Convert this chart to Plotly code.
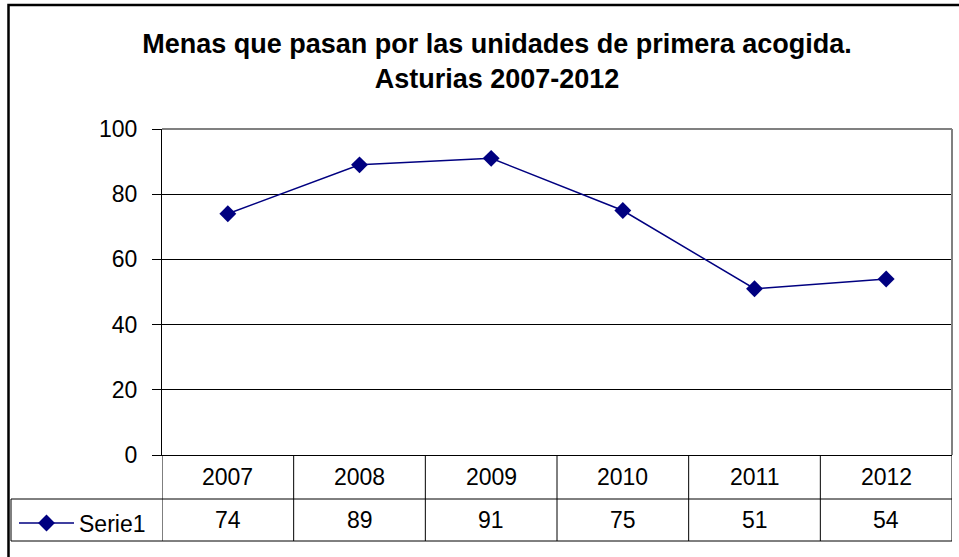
import plotly.graph_objects as go

years = ["2007", "2008", "2009", "2010", "2011", "2012"]
serie1 = [74, 89, 91, 75, 51, 54]
y_ticks = [0, 20, 40, 60, 80, 100]

W, H = 959, 557
L, R, T, B = 162, 7, 129, 102
PW, PH = W - L - R, H - T - B
NAVY = "#000080"
FONT = "Liberation Sans, Arial, sans-serif"


def xp(px):
    return (px - L) / PW


def yp(py):
    return (H - B - py) / PH


fig = go.Figure()
fig.add_trace(go.Scatter(
    x=years, y=serie1, name="Serie1", mode="lines+markers",
    line=dict(color=NAVY, width=1.5),
    marker=dict(symbol="diamond", size=13, color=NAVY),
))

shapes = []
# outer chart border
shapes.append(dict(type="rect", xref="paper", yref="paper",
                   x0=xp(8.5), x1=xp(1000), y0=yp(5), y1=yp(700),
                   line=dict(color="black", width=2.5)))
# plot area top/right border (gray)
shapes.append(dict(type="line", xref="paper", yref="paper",
                   x0=0, x1=1, y0=1, y1=1, line=dict(color="#808080", width=2)))
shapes.append(dict(type="line", xref="paper", yref="paper",
                   x0=1, x1=1, y0=0, y1=1, line=dict(color="#808080", width=2)))
# data table rows
for py in (499, 541):
    shapes.append(dict(type="line", xref="paper", yref="paper",
                       x0=xp(11), x1=xp(952), y0=yp(py), y1=yp(py),
                       line=dict(color="black", width=1)))
shapes.append(dict(type="line", xref="paper", yref="paper",
                   x0=xp(11), x1=xp(11), y0=yp(499), y1=yp(541),
                   line=dict(color="black", width=1)))
# column separators at category edges
for i in range(len(years) + 1):
    shapes.append(dict(type="line", xref="x", yref="paper",
                       x0=i - 0.5, x1=i - 0.5, y0=yp(455), y1=yp(541),
                       line=dict(color="black", width=1)))

annotations = []
for i, (yr, v) in enumerate(zip(years, serie1)):
    annotations.append(dict(x=i, y=yp(477), xref="x", yref="paper", text=yr,
                            xanchor="center", yanchor="middle", showarrow=False,
                            font=dict(size=23, color="black")))
    annotations.append(dict(x=i, y=yp(520), xref="x", yref="paper", text=str(v),
                            xanchor="center", yanchor="middle", showarrow=False,
                            font=dict(size=23, color="black")))

fig.update_layout(
    width=W, height=H,
    margin=dict(l=L, r=R, t=T, b=B),
    paper_bgcolor="white", plot_bgcolor="white",
    font=dict(family=FONT, color="black", size=23),
    title=dict(text="<b>Menas que pasan por las unidades de primera acogida.<br>Asturias 2007-2012</b>",
               x=497 / W, xanchor="center", y=1 - 53 / H, yanchor="middle",
               font=dict(size=27, color="black")),
    xaxis=dict(type="category", range=[-0.5, 5.5], showgrid=False, showticklabels=False,
               showline=True, linecolor="black", linewidth=1, ticks="", zeroline=False),
    yaxis=dict(range=[0, 100], tickvals=y_ticks, showgrid=True, gridcolor="black",
               gridwidth=1, showline=True, linecolor="black", linewidth=1,
               ticks="outside", ticklen=9, tickcolor="black", zeroline=False,
               ticklabelstandoff=10, tickfont=dict(size=23)),
    showlegend=True,
    legend=dict(x=xp(14), y=yp(523), xanchor="left", yanchor="middle", itemwidth=55,
                bgcolor="rgba(0,0,0,0)", font=dict(size=23)),
    shapes=shapes,
    annotations=annotations,
)

fig.write_html("out.html", config={"displayModeBar": False},
               post_script="document.body.style.margin='0';")
